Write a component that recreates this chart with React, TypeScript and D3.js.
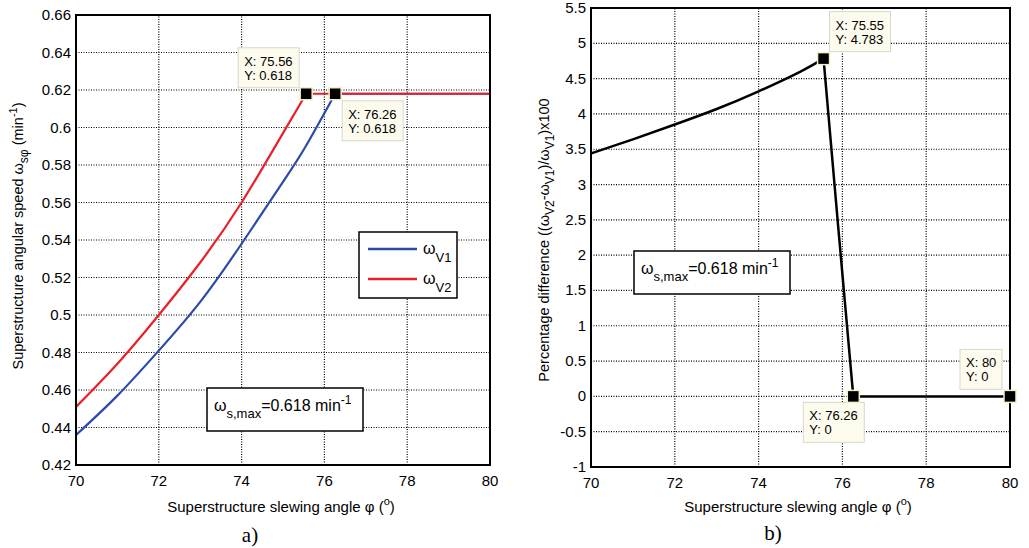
import React from "react";
import * as d3 from "d3";

// ---- Data ----
const xTicks = [70, 72, 74, 76, 78, 80];
const leftYTicks = [0.42, 0.44, 0.46, 0.48, 0.5, 0.52, 0.54, 0.56, 0.58, 0.6, 0.62, 0.64, 0.66];
const leftYLabels = ["0.42", "0.44", "0.46", "0.48", "0.5", "0.52", "0.54", "0.56", "0.58", "0.6", "0.62", "0.64", "0.66"];
const rightYTicks = [-1, -0.5, 0, 0.5, 1, 1.5, 2, 2.5, 3, 3.5, 4, 4.5, 5, 5.5];
const rightYLabels = ["-1", "-0.5", "0", "0.5", "1", "1.5", "2", "2.5", "3", "3.5", "4", "4.5", "5", "5.5"];

// ω_V1: rising part, then constant at 0.618
const v1X = [70, 71, 72, 73, 74, 75, 75.55, 76.26];
const v1Y = [0.436, 0.457, 0.481, 0.507, 0.538, 0.571, 0.59, 0.618];
const v1FlatX = [76.26, 80];
const v1FlatY = [0.618, 0.618];
// ω_V2
const v2X = [70, 71, 72, 73, 74, 75, 75.56];
const v2Y = [0.451, 0.474, 0.5, 0.528, 0.56, 0.597, 0.618];
const v2FlatX = [75.56, 80];
const v2FlatY = [0.618, 0.618];

// Percentage difference
const diffX = [70, 71, 72, 73, 74, 75, 75.55];
const diffY = [3.44, 3.64, 3.85, 4.07, 4.32, 4.6, 4.783];
const dropX = [75.55, 75.9, 76.26, 80];
const dropY = [4.783, 2.4, 0, 0];

const leftTips = [
  { x: 75.56, y: 0.618, lines: ["X: 75.56", "Y: 0.618"], dx: -68, dy: -46 },
  { x: 76.26, y: 0.618, lines: ["X: 76.26", "Y: 0.618"], dx: 7, dy: 7 },
];
const rightTips = [
  { x: 75.55, y: 4.783, lines: ["X: 75.55", "Y: 4.783"], dx: 6, dy: -47 },
  { x: 76.26, y: 0, lines: ["X: 76.26", "Y: 0"], dx: -50, dy: 6 },
  { x: 80, y: 0, lines: ["X: 80", "Y: 0"], dx: -50, dy: -47 },
];

const FONT = "'Liberation Sans', Arial, sans-serif";

type Tip = { x: number; y: number; lines: string[]; dx: number; dy: number };

function Frame({ x, y, yTicks, yLabels }: any) {
  return (
    <g>
      {xTicks.map((t) => (
        <g key={"gx" + t}>
          <line x1={x(t)} x2={x(t)} y1={y.range()[0]} y2={y.range()[1]} stroke="#000" strokeWidth={1.2} strokeDasharray="1,1.5" />
          <text x={x(t)} y={y.range()[0] + 21} textAnchor="middle" fontSize={15} fontFamily={FONT}>{t}</text>
        </g>
      ))}
      {yTicks.map((t: number, i: number) => (
        <g key={"gy" + t}>
          <line x1={x.range()[0]} x2={x.range()[1]} y1={y(t)} y2={y(t)} stroke="#000" strokeWidth={1.2} strokeDasharray="1,1.5" />
          <text x={x.range()[0] - 5} y={y(t) + 5} textAnchor="end" fontSize={15} fontFamily={FONT}>{yLabels[i]}</text>
        </g>
      ))}
    </g>
  );
}

function Border({ x, y }: any) {
  const [x0, x1] = x.range();
  const [y0, y1] = y.range();
  return <rect x={x0} y={y1} width={x1 - x0} height={y0 - y1} fill="none" stroke="#000" strokeWidth={2} />;
}

function Tips({ x, y, tips }: { x: any; y: any; tips: Tip[] }) {
  return (
    <g>
      {tips.map((t, i) => {
        const px = x(t.x);
        const py = y(t.y);
        const w = t.lines[0].length > 6 ? 61 : 42;
        return (
          <g key={i}>
            <rect x={px + t.dx} y={py + t.dy} width={w} height={40} fill="#FCFBEE" stroke="#D8D8C8" strokeWidth={1} />
            {t.lines.map((l, j) => (
              <text key={j} x={px + t.dx + 6} y={py + t.dy + 18 + j * 14} fontSize={13} fontFamily={FONT}>{l}</text>
            ))}
            <rect x={px - 6} y={py - 6} width={12} height={12} fill="#000" stroke="#F3EFC8" strokeWidth={1.5} />
          </g>
        );
      })}
    </g>
  );
}

function OmegaBox({ bx, by }: { bx: number; by: number }) {
  return (
    <g>
      <rect x={bx} y={by} width={156} height={43} fill="#fff" stroke="#000" strokeWidth={1.5} />
      <text x={bx + 7} y={by + 23} fontSize={16} fontFamily={FONT}>
        ω<tspan fontSize={13} dy={7}>s,max</tspan>
        <tspan dy={-7}>=0.618 min</tspan>
        <tspan fontSize={12} dy={-7}>-1</tspan>
      </text>
    </g>
  );
}

const zip = (a: number[], b: number[]) => a.map((v, i) => [v, b[i]] as [number, number]);

export default function App() {
  const xL = d3.scaleLinear().domain([70, 80]).range([76, 490]);
  const yL = d3.scaleLinear().domain([0.42, 0.66]).range([465, 15]);
  const xR = d3.scaleLinear().domain([70, 80]).range([591, 1010]);
  const yR = d3.scaleLinear().domain([-1, 5.5]).range([467, 8]);

  const curveL = d3.line<[number, number]>().x((d) => xL(d[0])).y((d) => yL(d[1])).curve(d3.curveNatural);
  const straightL = d3.line<[number, number]>().x((d) => xL(d[0])).y((d) => yL(d[1]));
  const curveR = d3.line<[number, number]>().x((d) => xR(d[0])).y((d) => yR(d[1])).curve(d3.curveNatural);
  const straightR = d3.line<[number, number]>().x((d) => xR(d[0])).y((d) => yR(d[1]));

  return (
    <svg width={1029} height={548} style={{ position: "absolute", left: 0, top: 0, background: "#fff" }}>
      <rect width={1029} height={548} fill="#fff" />
      {/* Left panel */}
      <Frame x={xL} y={yL} yTicks={leftYTicks} yLabels={leftYLabels} />
      <path d={(curveL(zip(v1X, v1Y)) || "") + (straightL(zip(v1FlatX, v1FlatY)) || "")} fill="none" stroke="#2B4BA8" strokeWidth={2.2} />
      <path d={(curveL(zip(v2X, v2Y)) || "") + (straightL(zip(v2FlatX, v2FlatY)) || "")} fill="none" stroke="#E8202A" strokeWidth={2.2} />
      <Border x={xL} y={yL} />
      <Tips x={xL} y={yL} tips={leftTips} />
      <g>
        <rect x={359} y={232} width={98} height={66} fill="#fff" stroke="#000" strokeWidth={1.5} />
        <line x1={368} x2={417} y1={249} y2={249} stroke="#2B4BA8" strokeWidth={2.5} />
        <line x1={368} x2={417} y1={279} y2={279} stroke="#E8202A" strokeWidth={2.5} />
        <text x={423} y={254} fontSize={16} fontFamily={FONT}>ω<tspan fontSize={13} dy={8}>V1</tspan></text>
        <text x={423} y={284} fontSize={16} fontFamily={FONT}>ω<tspan fontSize={13} dy={8}>V2</tspan></text>
      </g>
      <OmegaBox bx={207} by={388} />
      <text transform="translate(23,236) rotate(-90)" textAnchor="middle" fontSize={14.5} fontFamily={FONT}>
        Superstructure angular speed ω<tspan fontSize={12} dy={5}>sφ</tspan>
        <tspan dy={-5}> (min</tspan>
        <tspan fontSize={11} dy={-6}>-1</tspan>
        <tspan dy={6}>)</tspan>
      </text>
      <text x={281} y={512} textAnchor="middle" fontSize={15} fontFamily={FONT}>
        Superstructure slewing angle φ (<tspan fontSize={11} dy={-7}>o</tspan><tspan dy={7}>)</tspan>
      </text>
      <text x={250} y={542} textAnchor="middle" fontSize={21} fontFamily="'Liberation Serif', 'Times New Roman', serif">a)</text>

      {/* Right panel */}
      <Frame x={xR} y={yR} yTicks={rightYTicks} yLabels={rightYLabels} />
      <path d={(curveR(zip(diffX, diffY)) || "") + (straightR(zip(dropX, dropY)) || "")} fill="none" stroke="#000" strokeWidth={2.5} />
      <Border x={xR} y={yR} />
      <Tips x={xR} y={yR} tips={rightTips} />
      <OmegaBox bx={634} by={251} />
      <text transform="translate(549,240) rotate(-90)" textAnchor="middle" fontSize={14.5} fontFamily={FONT}>
        Percentage difference ((ω<tspan fontSize={12} dy={5}>V2</tspan>
        <tspan dy={-5}>-ω</tspan>
        <tspan fontSize={12} dy={5}>V1</tspan>
        <tspan dy={-5}>)/ω</tspan>
        <tspan fontSize={12} dy={5}>V1</tspan>
        <tspan dy={-5}>)x100</tspan>
      </text>
      <text x={798} y={512} textAnchor="middle" fontSize={15} fontFamily={FONT}>
        Superstructure slewing angle φ (<tspan fontSize={11} dy={-7}>o</tspan><tspan dy={7}>)</tspan>
      </text>
      <text x={773} y={540} textAnchor="middle" fontSize={21} fontFamily="'Liberation Serif', 'Times New Roman', serif">b)</text>
    </svg>
  );
}
